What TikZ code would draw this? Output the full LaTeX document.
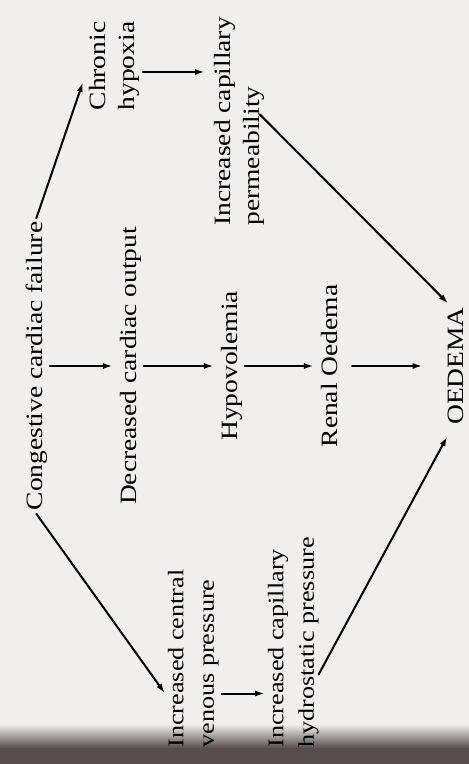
\documentclass[tikz,border=0pt]{standalone}
\usepackage{fontspec}
\setmainfont{Liberation Serif}
\usetikzlibrary{arrows.meta,calc}
\definecolor{paper}{RGB}{241,239,237}
\definecolor{pageedge}{RGB}{86,78,78}
\begin{document}
\begin{tikzpicture}[x=0.5pt,y=-0.5pt,line cap=round]
\tikzset{T/.style={rotate=90,yscale=0.85,inner sep=1.5pt,font=\fontsize{13.75}{17.5}\selectfont},
  S/.style={T,font=\fontsize{13.1}{18}\selectfont,align=left},
  A/.style={-{Latex[length=5pt,width=3pt]},line width=1pt}}
\fill[paper] (0,0) rectangle (469,764);
\shade[top color=paper,bottom color=pageedge] (0,724) rectangle (469,748);
\fill[pageedge] (0,748) rectangle (469,764);
\useasboundingbox (0,0) rectangle (469,764);
% middle row
\node[T,anchor=base] (ccf) at (42,366) {Congestive cardiac failure};
\node[T,anchor=base] (dco) at (136,366) {Decreased cardiac output};
\node[T,anchor=base] (hyp) at (237,366) {Hypovolemia};
\node[T,anchor=base] (ren) at (337,366) {Renal Oedema};
\node[T,anchor=base] (oed) at (463,366) {OEDEMA};
% upper branch
\node[T,align=center,anchor=north] (cho) at (86,66) {Chronic\\hypoxia};
\node[T,align=left,anchor=north west] (icp) at (211,229) {Increased capillary\\permeability};
% lower branch
\node[S,anchor=north west] (icv) at (165,751) {Increased central\\venous pressure};
\node[S,anchor=north west] (ich) at (265,751) {Increased capillary\\hydrostatic pressure};
\draw[A,shorten >=2pt] (ccf.south) -- (dco.north);
\draw[A,shorten >=2pt] (dco.south) -- (hyp.north);
\draw[A,shorten >=2pt] (hyp.south) -- (ren.north);
\draw[A,shorten <=6pt,shorten >=11pt] (ren.south) -- (oed.north);
\draw[A] (ccf.east) -- ($(cho.north)+(-3,16)$);
\draw[A,shorten >=3pt] ($(cho.south)+(0,6)$) coordinate (h1) -- (h1 -| icp.north);
\draw[A] ($(icp.south)+(-8,-7)$) -- ($(oed.east)+(-7,0)$);
\draw[A] (ccf.west) -- ($(icv.north)+(0,35)$);
\draw[A] ($(icv.south)+(0,35)$) coordinate (h2) -- (h2 -| ich.north);
\draw[A] ($(ich.south)+(-3,32)$) -- ($(oed.west)+(-8,8)$);
\end{tikzpicture}
\end{document}
